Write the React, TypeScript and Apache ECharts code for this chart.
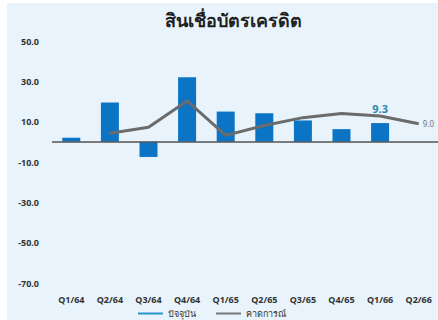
import React, { useEffect, useRef } from "react";
import * as echarts from "echarts";

const categories = ["Q1/64", "Q2/64", "Q3/64", "Q4/64", "Q1/65", "Q2/65", "Q3/65", "Q4/65", "Q1/66", "Q2/66"];
const actualValues = [2.0, 19.5, -7.5, 32.0, 15.0, 14.2, 10.6, 6.3, 9.3, null];
const forecastValues = [null, 4.3, 7.2, 20.3, 3.2, 8.1, 12.0, 14.0, 12.8, 9.0];
const yTickLabels = [-70, -50, -30, -10, 10, 30, 50];
const seriesNames = ["ปัจจุบัน", "คาดการณ์"];
const titleText = "สินเชื่อบัตรเครดิต";

export default function App() {
  const ref = useRef<HTMLDivElement>(null);
  useEffect(() => {
    if (!ref.current) return;
    const chart = echarts.init(ref.current, undefined, { renderer: "svg" });
    const font = "Noto Sans";
    chart.setOption({
      animation: false,
      backgroundColor: "#ffffff",
      textStyle: { fontFamily: font },
      graphic: [
        {
          type: "rect",
          left: 7,
          top: 3,
          z: -10,
          shape: { width: 431, height: 317 },
          style: { fill: "#e8f3fb" },
          silent: true,
        },
      ],
      title: {
        text: titleText,
        left: 160,
        top: 6,
        textStyle: { fontSize: 18, fontWeight: "bold", color: "#1f1f1f", fontFamily: font },
      },
      legend: {
        left: 133,
        top: 304,
        itemWidth: 25,
        itemHeight: 2,
        itemGap: 20,
        icon: "rect",
        textStyle: { fontSize: 9, color: "#333", fontFamily: font },
        data: [
          { name: seriesNames[0], itemStyle: { color: "#2b95c8" } },
          { name: seriesNames[1], itemStyle: { color: "#777777" } },
        ],
      },
      grid: { left: 52, top: 41, width: 390, height: 242, containLabel: false },
      xAxis: {
        type: "category",
        data: categories,
        axisLine: { show: false },
        axisTick: { show: false },
        axisLabel: { fontSize: 9, color: "#333", margin: 12, interval: 0, fontWeight: "bold" },
      },
      yAxis: {
        type: "value",
        min: -70,
        max: 50,
        splitLine: { show: false },
        axisLine: { show: false },
        axisTick: { show: false },
        axisLabel: {
          customValues: yTickLabels,
          fontSize: 9,
          color: "#333",
          fontWeight: "bold",
          margin: 13,
          formatter: (v: number) => v.toFixed(1),
        },
      },
      series: [
        {
          name: seriesNames[0],
          type: "bar",
          data: actualValues.map((v, i) =>
            i === 8
              ? {
                  value: v,
                  label: {
                    show: true,
                    position: "top",
                    distance: 9,
                    color: "#2a86ad",
                    fontSize: 11,
                    fontWeight: "bold",
                    formatter: (p: any) => Number(p.value).toFixed(1),
                  },
                }
              : v
          ),
          barWidth: 18,
          itemStyle: { color: "#0b74c4" },
          markLine: {
            silent: true,
            symbol: "none",
            label: { show: false },
            lineStyle: { color: "#555", width: 1.5, type: "solid" },
            data: [{ yAxis: 0 }],
          },
          z: 2,
        },
        {
          name: seriesNames[1],
          type: "line",
          data: forecastValues,
          symbol: "none",
          connectNulls: false,
          lineStyle: { color: "#6b6b6b", width: 3 },
          itemStyle: { color: "#6b6b6b" },
          endLabel: {
            show: true,
            distance: 4,
            color: "#777",
            fontSize: 8,
            formatter: (p: any) => Number(p.value).toFixed(1),
          },
          z: 3,
        },
      ],
    });
    return () => chart.dispose();
  }, []);
  return (
    <div
      ref={ref}
      style={{ position: "fixed", left: 0, top: 0, width: 438, height: 320 }}
    />
  );
}
